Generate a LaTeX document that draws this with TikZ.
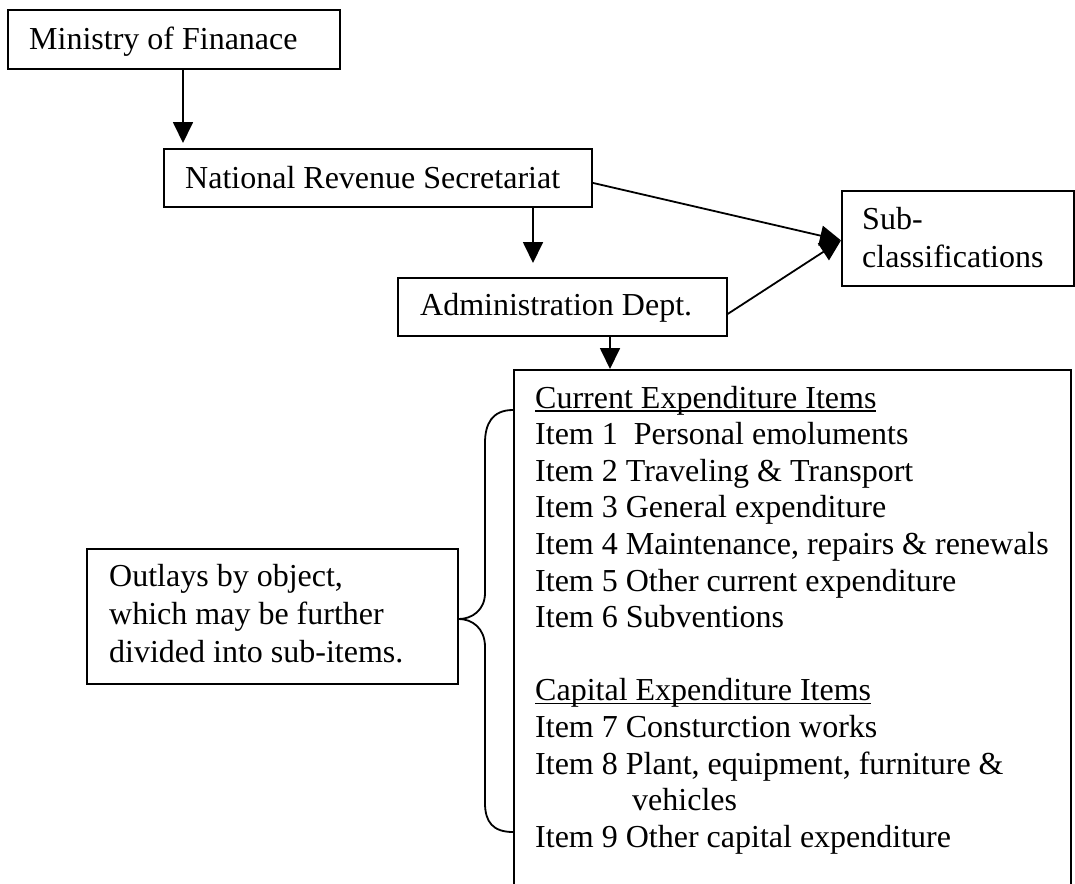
\documentclass[tikz,border=0pt]{standalone}
\usepackage{fontspec}
\setmainfont{Liberation Serif}
\usetikzlibrary{arrows.meta,calc}
\newcommand\ulineX[1]{\setbox0\hbox{#1}\rlap{\rule[-3.5pt]{\wd0}{1.6pt}}\box0}
\begin{document}
\begin{tikzpicture}[x=1pt,y=-1pt,
  box/.style={draw, line width=1.8pt, inner sep=0pt, anchor=north west},
  txt/.style={anchor=base west, inner sep=0pt, font=\fontsize{32pt}{36.7pt}\selectfont},
  arr/.style={line width=1.8pt, -{Triangle[length=21pt,width=20pt]}},
  brace/.style={line width=1.8pt, line join=round}]
\useasboundingbox (0,0) rectangle (1075,883);
\clip (0,0) rectangle (1075,883);
\fill[white] (0,0) rectangle (1075,883);
% boxes
\node[box, minimum width=332pt, minimum height=59pt] (min) at (7,9) {};
\node[box, minimum width=428pt, minimum height=58pt] (nrs) at (163,148) {};
\node[box, minimum width=329pt, minimum height=58pt] (adm) at (397,277) {};
\node[box, minimum width=232pt, minimum height=95pt] (sub) at (841,190) {};
\node[box, minimum width=557pt, minimum height=540pt] (big) at (513,369) {};
\node[box, minimum width=371pt, minimum height=135pt] (out) at (86,548) {};
% texts
\node[txt] (tmin) at (29,49) {Ministry of Finanace};
\node[txt] (tnrs) at (185,188) {National Revenue Secretariat};
\node[txt] (tadm) at (420,315) {Administration Dept.};
\node[txt] (tsub1) at (862,229) {Sub-};
\node[txt] (tsub2) at (862,267) {classifications};
\node[txt] (tout1) at (109,586) {Outlays by object,};
\node[txt] (tout2) at (109,624) {which may be further};
\node[txt] (tout3) at (109,662) {divided into sub-items.};
\foreach \k/\xx/\t in {
  0/535/{\ulineX{Current Expenditure Items}},
  1/535/{Item 1~ Personal emoluments},
  2/535/{Item 2 Traveling \& Transport},
  3/535/{Item 3 General expenditure},
  4/535/{Item 4 Maintenance, repairs \& renewals},
  5/535/{Item 5 Other current expenditure},
  6/535/{Item 6 Subventions},
  8/535/{\ulineX{Capital Expenditure Items}},
  9/535/{Item 7 Consturction works},
  10/535/{Item 8 Plant, equipment, furniture \&},
  11/632/{vehicles},
  12/535/{Item 9 Other capital expenditure}}
  \node[txt] (line\k) at (\xx,408+\k*36.6) {\t};
% connectors
\draw[arr, shorten >=5pt] (min.south -| 183,0) -- (nrs.north -| 183,0);
\draw[arr, shorten >=14pt] (nrs.south -| 533,0) -- (adm.north -| 533,0);
\draw[arr] (adm.south -| 610,0) -- (big.north -| 610,0);
\draw[arr] ($(nrs.east)+(0,5)$) -- ($(sub.west)+(0,2)$);
\draw[arr] ($(adm.east)+(0,7)$) -- ($(sub.west)+(0,2)$);
% brace
\draw[brace] (big.west |- 0,410) .. controls (492,410) and (485,424) .. (485,443)
  -- (485,593) .. controls (485,610) and (472,619) .. (out.east |- 0,619)
  .. controls (472,619) and (485,628) .. (485,647)
  -- (485,803) .. controls (485,822) and (493,832) .. (big.west |- 0,832);
\end{tikzpicture}
\end{document}
